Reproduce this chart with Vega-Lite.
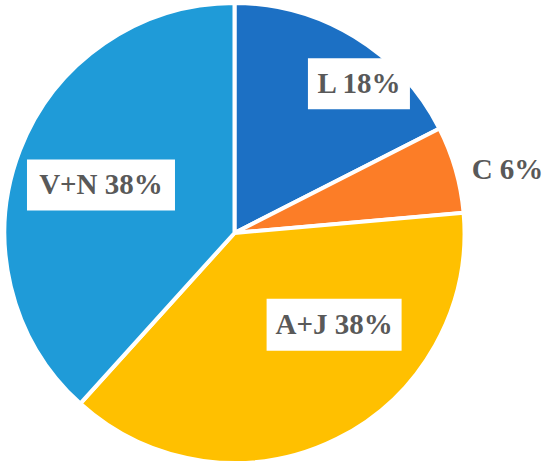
{
  "$schema": "https://vega.github.io/schema/vega-lite/v6.json",
  "width": 469,
  "height": 466,
  "autosize": {"type": "none"},
  "padding": {"left": 0, "top": 0, "right": 81, "bottom": 1},
  "background": "white",
  "config": {"view": {"stroke": null}},
  "data": {"values": [
    {"n": 1, "group": "L", "value": 17.5, "label": "L 18%"},
    {"n": 2, "group": "C", "value": 6.1, "label": "C 6%"},
    {"n": 3, "group": "A+J", "value": 38.1, "label": "A+J 38%"},
    {"n": 4, "group": "V+N", "value": 38.3, "label": "V+N 38%"}
  ]},
  "transform": [
    {"stack": "value", "groupby": [], "sort": [{"field": "n", "order": "ascending"}], "as": ["a0", "a1"]},
    {"calculate": "(datum.a0 + datum.a1) / 2", "as": "am"},
    {"calculate": "datum.group == 'L' ? 175 : datum.group == 'C' ? 283 : datum.group == 'A+J' ? 136 : 142", "as": "lr"},
    {"calculate": "datum.group == 'L' ? 33 : datum.group == 'C' ? 1 : datum.group == 'A+J' ? 39 : -1", "as": "ldx"},
    {"calculate": "datum.group == 'L' ? 0 : datum.group == 'C' ? 15 : datum.group == 'A+J' ? -30 : 3", "as": "ldy"},
    {"calculate": "datum.lr * sin(2 * PI * datum.am / 100) + datum.ldx", "as": "bx"},
    {"calculate": "-datum.lr * cos(2 * PI * datum.am / 100) + datum.ldy", "as": "by"}
  ],
  "encoding": {
    "x": {"field": "bx", "type": "quantitative", "axis": null, "scale": {"domain": [-234.5, 234.5], "nice": false, "zero": false}},
    "y": {"field": "by", "type": "quantitative", "axis": null, "scale": {"domain": [-233, 233], "nice": false, "zero": false, "reverse": true}}
  },
  "layer": [
    {
      "mark": {"type": "arc", "outerRadius": 230, "stroke": "white", "strokeWidth": 4},
      "encoding": {
        "x": null,
        "y": null,
        "theta": {"field": "a0", "type": "quantitative", "scale": {"domain": [0, 100]}},
        "theta2": {"field": "a1"},
        "color": {
          "field": "group", "type": "nominal", "legend": null,
          "scale": {"domain": ["L", "C", "A+J", "V+N"], "range": ["#1c70c4", "#fc7d27", "#ffc000", "#1f9bd8"]}
        }
      }
    },
    {
      "transform": [{"filter": "datum.group == 'L'"}],
      "mark": {"type": "point", "filled": true, "opacity": 1, "color": "white", "strokeWidth": 0, "shape": "M-1,-0.5H1V0.5H-1Z", "size": 10404}
    },
    {
      "transform": [{"filter": "datum.group == 'A+J'"}],
      "mark": {"type": "point", "filled": true, "opacity": 1, "color": "white", "strokeWidth": 0, "shape": "M-1,-0.385H1V0.385H-1Z", "size": 18225}
    },
    {
      "transform": [{"filter": "datum.group == 'V+N'"}],
      "mark": {"type": "point", "filled": true, "opacity": 1, "color": "white", "strokeWidth": 0, "shape": "M-1,-0.345H1V0.345H-1Z", "size": 21904}
    },
    {
      "mark": {"type": "text", "font": "Liberation Serif", "fontWeight": "bold", "fontSize": 29, "color": "#595959", "align": "center", "baseline": "middle"},
      "encoding": {"text": {"field": "label"}}
    }
  ]
}
